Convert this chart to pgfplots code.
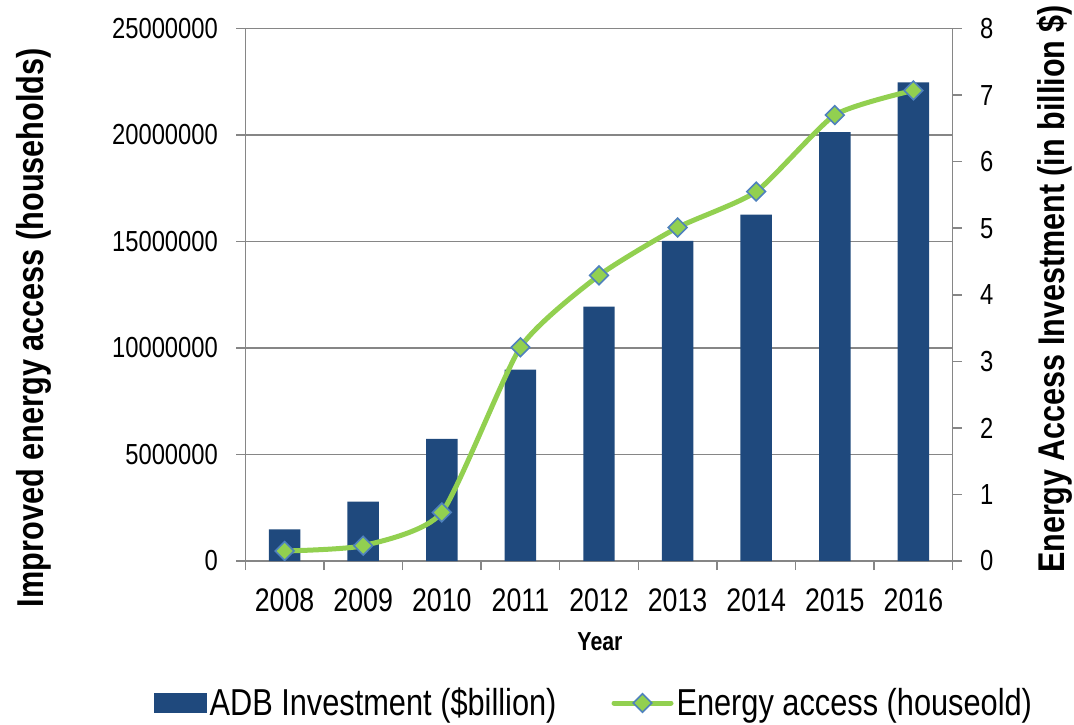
\documentclass[border=0pt]{standalone}
\usepackage{pgfplots}
\usepackage{pgfplotstable}
\pgfplotsset{compat=1.18}
\usepackage{fontspec}
\setmainfont{Liberation Sans}[FakeStretch=0.82]
\definecolor{barblue}{HTML}{1F497D}
\definecolor{linegreen}{HTML}{92D050}
\definecolor{markblue}{HTML}{4F81BD}
\definecolor{axgray}{HTML}{868686}

\pgfplotstableread{
idx bars line
0 1490000 0.15
1 2790000 0.23
2 5730000 0.73
3 8980000 3.21
4 11940000 4.29
5 15030000 5.01
6 16260000 5.55
7 20130000 6.70
8 22470000 7.07
}\datatable

\pgfplotsset{
  common/.style={
    at={(122.65pt,81.5pt)}, anchor=south west,
    scale only axis, width=353.7pt, height=266.25pt,
    xmin=-0.5, xmax=8.5,
    axis line style={axgray, line width=0.75pt},
    tick align=outside, major tick length=4.5pt,
    tick style={axgray, line width=0.75pt},
    /pgf/number format/assume math mode=true,
    ticklabel style={font=\fontsize{14.5}{16}\selectfont},
  }
}

\begin{document}
\begin{tikzpicture}
\path[use as bounding box] (0pt,0pt) rectangle (537pt,362pt);
\begin{axis}[common,
  ymin=0, ymax=25000000,
  axis x line*=bottom, axis y line*=left,
  ytick={0,5000000,10000000,15000000,20000000,25000000},
  yticklabels={0,5000000,10000000,15000000,20000000,25000000},
  scaled y ticks=false,
  ymajorgrids, grid style={axgray, line width=0.65pt},
  xtick={-0.5,0.5,1.5,2.5,3.5,4.5,5.5,6.5,7.5,8.5},
  x tick label as interval,
  xticklabels={2008,2009,2010,2011,2012,2013,2014,2015,2016},
  xticklabel style={anchor=north, inner sep=0pt, yshift=-9pt, font=\fontsize{16.3}{18}\selectfont},
  yticklabel style={anchor=east, inner sep=0pt, xshift=-9pt},
  xlabel={Year},
  xlabel style={at={(0.5014,-0.152)}, anchor=center, font=\bfseries\fontsize{13}{15}\selectfont},
  ylabel={Improved energy access (households)},
  ylabel style={at={(-0.299,0.4385)}, anchor=center, font=\bfseries\fontsize{18.7}{22}\selectfont},
]
\addplot[ybar, bar width=0.4, fill=barblue, draw=none] table[x=idx, y=bars]{\datatable};
\end{axis}
\begin{axis}[common,
  ymin=0, ymax=8,
  axis x line=none, axis y line*=right,
  ytick={0,1,2,3,4,5,6,7,8},
  yticklabel style={anchor=west, inner sep=0pt, xshift=9pt},
  ylabel={Energy Access Investment (in billion \$)},
  ylabel style={at={(1.1446,0.5108)}, anchor=center, font=\bfseries\fontsize{18.6}{22}\selectfont},
  legend columns=2,
  legend style={draw=none, fill=none, at={(0.4935,-0.2667)}, anchor=center,
    font=\fontsize{18.75}{22}\selectfont, nodes={inner sep=1.5pt},
    /tikz/every even column/.append style={column sep=26pt}},
]
\addlegendimage{legend image code/.code={\fill[barblue] (0pt,-4.75pt) rectangle (26pt,4.75pt);}}
\addlegendentry{ADB Investment (\$billion)}
\addplot[linegreen, line width=2.5pt, smooth, tension=0.35, mark=square*, mark size=3.3pt,
  mark options={fill=linegreen, draw=markblue, line width=0.8pt, rotate=45},
  legend image code/.code={\draw[mark repeat=2, mark phase=2, line cap=round] plot coordinates {(0pt,0pt) (14.25pt,0pt) (28.5pt,0pt)};}]
  table[x=idx, y=line]{\datatable};
\addlegendentry{Energy access (houseold)}
\end{axis}
\end{tikzpicture}
\end{document}
